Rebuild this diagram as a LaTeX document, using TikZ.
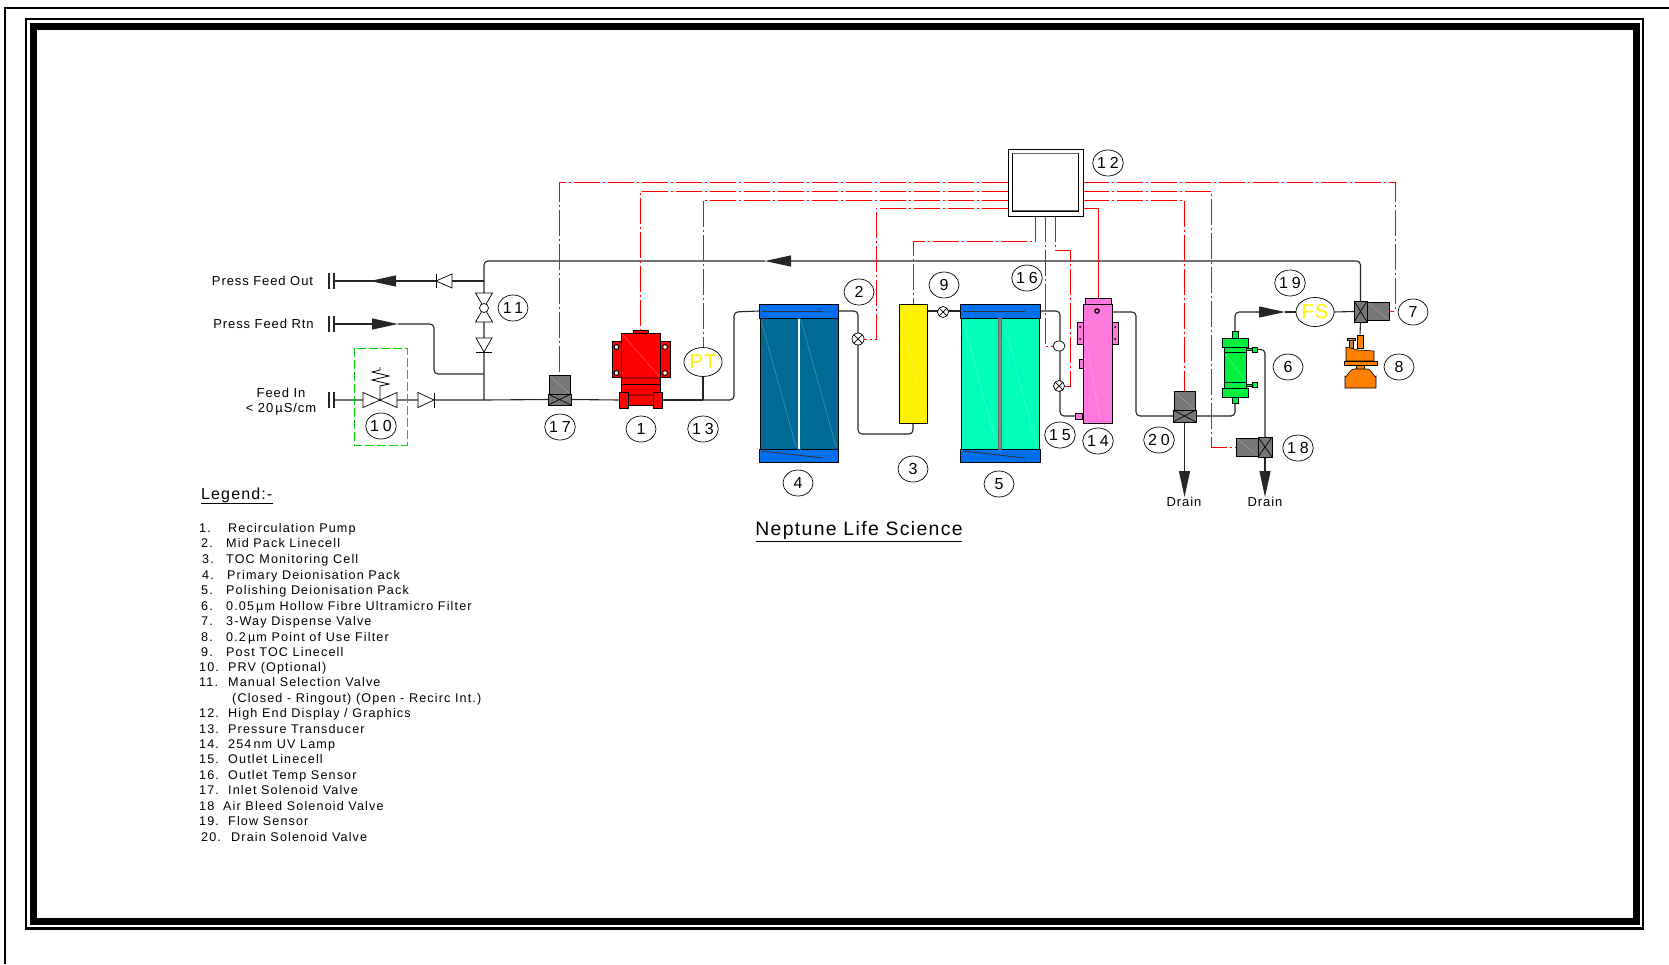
\documentclass[tikz,border=0pt]{standalone}
\usepackage{fontspec}
\setmainfont{Liberation Sans}[LetterSpace=7]
\newfontfamily\tagfont{Liberation Sans}[LetterSpace=24]
\usetikzlibrary{arrows.meta,backgrounds,shapes.geometric}
\definecolor{packblue}{HTML}{006C96}
\definecolor{capblue}{HTML}{0070F0}
\definecolor{packgreen}{HTML}{00FFB9}
\definecolor{lamppink}{HTML}{FF78DC}
\definecolor{filtergreen}{HTML}{00F040}
\definecolor{filterorange}{HTML}{FF8000}
\definecolor{solgrey}{HTML}{777777}
\tikzset{
	pipe/.style={line width=1.1, black!85},
	elbow/.style={pipe, rounded corners=4},
	signal/.style={line width=.9, red, dash pattern=on 26 off 3 on 2 off 3},
	flowtip/.style={-{Triangle[length=26,width=11]}},
	tag/.style={ellipse, draw, line width=.7, minimum width=30, minimum height=26, inner sep=0, font=\tagfont\fontsize{16}{16}\selectfont},
	part/.style={draw, line width=.7, inner sep=0, outer sep=0},
	xcross/.style={path picture={\draw[line width=.7] (path picture bounding box.north west)--(path picture bounding box.south east) (path picture bounding box.north east)--(path picture bounding box.south west);}},
	cellx/.style={part, circle, fill=white, minimum size=12, xcross},
	sol/.style={part, fill=solgrey},
	sym/.style={draw, line width=.7, fill=white},
	gleam/.style={line width=.4, white, opacity=.35},
	labeltext/.style={inner sep=0, text height=9.5, text depth=0, font=\fontsize{13}{15}\selectfont},
	legendline/.style={inner sep=0, anchor=base west, yshift=-4.5, font=\fontsize{12.6}{15}\selectfont\addfontfeature{LetterSpace=9}},
	sensor/.style={part, ellipse, fill=white, minimum width=32, minimum height=29, text=yellow, font=\fontsize{20}{20}\selectfont},
}
\begin{document}
\begin{tikzpicture}[x=1pt,y=-1pt]
	\useasboundingbox (0,0) rectangle (1669,964);

	\draw [line width=2] (5,964)--(5,8)--(1669,8);
	\draw [line width=2.5] (26,19) rectangle (1643,928.5);
	\draw [line width=7] (33.5,26.5) rectangle (1636,921.5);

	\node [part, minimum width=75, minimum height=67, fill=white] (disp) at (1045.5,182.5) {};
	\draw [line width=.7] (1012.5,153) rectangle (1078,211);
	\draw [line width=1.6, black!60] (1012.5,153.5)--(1078,153.5);
	\draw [line width=1.6, black!60] (1012.5,210.5)--(1078,210.5);

	\node [sol, minimum width=21, minimum height=19] (v17top) at (559.5,384.5) {};
	\node [sol, minimum width=23, minimum height=11, xcross] (v17low) at (559.5,399.5) {};
	\draw [gleam] (550,376)--(569,393);

	\node [part, minimum width=39, minimum height=44, fill=red] (pump) at (640.5,355) {};
	\node [part, minimum width=15, minimum height=3, fill=red] (pumptab) at (640.5,331.5) {};
	\filldraw [fill=red, line width=.7] (612,341) rectangle (621,377);
	\filldraw [fill=red, line width=.7] (660,341) rectangle (670,377);
	\filldraw [fill=white, line width=.9] (616.5,347) circle (2.4);
	\filldraw [fill=white, line width=.9] (616.5,373) circle (2.4);
	\filldraw [fill=white, line width=.9] (665,347) circle (2.4);
	\filldraw [fill=white, line width=.9] (665,373) circle (2.4);
	\filldraw [fill=red, line width=.7] (621,377) rectangle (660,384);
	\filldraw [fill=red, line width=.7] (621,384) rectangle (660,405);
	\draw [line width=1.2, red!65!black] (621,378)--(660,378);
	\draw [line width=1.2, red!65!black] (628,395)--(653,395);
	\filldraw [fill=red, line width=.7] (619,392) rectangle (628,408);
	\filldraw [fill=red, line width=.7] (653,392) rectangle (662,408);
	\draw [gleam] (622,334)--(659,376);
	\node [inner sep=0, minimum width=43, minimum height=16] (pumpfoot) at (640.5,400) {};

	\node [sensor] (pt) at (703,362) {PT};

	\node [part, minimum width=79, minimum height=14, fill=capblue] (pack4top) at (798.5,311) {};
	\node [part, minimum width=79, minimum height=13, fill=capblue] (pack4low) at (798.5,455.5) {};
	\node [part, minimum width=78, minimum height=131, fill=packblue] (pack4) at (799,383.5) {};
	\filldraw [fill=white, draw=packblue, line width=.4] (797.5,318) rectangle (800.5,449);
	\draw [gleam] (761,320)--(796,447);
	\draw [gleam] (801,320)--(836,447);
	\draw [line width=.9, black!80] (762,311)--(823,311);
	\draw [line width=.9, black!80] (762,451)--(823,458);

	\node [part, minimum width=28, minimum height=119, fill=yellow] (toc) at (913,363.5) {};
	\draw [gleam] (900,310)--(925,420);

	\node [part, minimum width=80, minimum height=14, fill=capblue] (pack5top) at (1000,311) {};
	\node [part, minimum width=80, minimum height=13, fill=capblue] (pack5low) at (1000,455.5) {};
	\node [part, minimum width=78, minimum height=131, fill=packgreen] (pack5) at (1000,383.5) {};
	\filldraw [fill=black!45, draw=black!60, line width=.4] (998.5,318) rectangle (1001.5,449);
	\draw [gleam] (963,320)--(997,447);
	\draw [gleam] (1003,320)--(1037,447);
	\draw [line width=.9, black!80] (963,311)--(1025,311);
	\draw [line width=.9, black!80] (963,451)--(1025,458);

	\node [cellx] (cell2) at (858,339) {};
	\node [cellx, minimum size=11] (cell9) at (943,312) {};
	\node [cellx, minimum size=11] (cell15) at (1059,386) {};
	\node [part, ellipse, fill=white, minimum width=12, minimum height=10] (temp16) at (1059,346) {};

	\filldraw [fill=lamppink, line width=.7] (1077,322) rectangle (1083,344);
	\filldraw [fill=lamppink, line width=.7] (1112,322) rectangle (1118,344);
	\filldraw [fill=lamppink, line width=.6] (1079,359) rectangle (1083,368);
	\node [part, minimum width=29, minimum height=119, fill=lamppink] (lamp) at (1097.5,363.5) {};
	\node [part, minimum width=26, minimum height=6, fill=lamppink] (lamptop) at (1098,301) {};
	\node [part, minimum width=7, minimum height=6, fill=lamppink] (lampport) at (1078.5,416) {};
	\filldraw [fill=lamppink, line width=1.2] (1097,311) circle (2.2);
	\fill (1080,327) circle (1);
	\fill (1080,339) circle (1);
	\fill (1115,327) circle (1);
	\fill (1115,339) circle (1);
	\draw [gleam] (1086,340)--(1100,420);

	\node [sol, minimum width=21, minimum height=19] (v20top) at (1184.5,400.5) {};
	\node [sol, minimum width=23, minimum height=12, xcross] (v20low) at (1184.5,416) {};
	\draw [gleam] (1175,392)--(1194,409);

	\node [part, minimum width=6, minimum height=7, fill=filtergreen] (f6top) at (1235,334.5) {};
	\node [part, minimum width=6, minimum height=6, fill=filtergreen] (f6low) at (1235,400) {};
	\filldraw [fill=filtergreen, line width=.7] (1222,338) rectangle (1248,347);
	\filldraw [fill=filtergreen, line width=.7] (1224,347) rectangle (1246,352);
	\filldraw [fill=filtergreen, line width=.7] (1224,352) rectangle (1246,382);
	\filldraw [fill=filtergreen, line width=.7] (1224,382) rectangle (1246,388);
	\filldraw [fill=filtergreen, line width=.7] (1222,388) rectangle (1248,397);
	\filldraw [fill=filtergreen, line width=.7] (1246,348) rectangle (1253,350);
	\filldraw [fill=filtergreen, line width=.7] (1246,384) rectangle (1253,386);
	\node [part, minimum width=5, minimum height=5, fill=filtergreen] (f6port) at (1255,349.5) {};
	\node [part, minimum width=5, minimum height=5, fill=filtergreen] (f6drain) at (1255,385) {};
	\draw [gleam] (1225,354)--(1245,380);

	\node [sol, minimum width=14, minimum height=20, xcross] (v18) at (1265,447) {};
	\node [sol, minimum width=22, minimum height=18] (v18sol) at (1247,447) {};
	\draw [gleam] (1237,439)--(1257,455);

	\node [sensor] (fs) at (1315,312) {FS};
	\node [sol, minimum width=13, minimum height=21, xcross] (v7) at (1360.5,311.5) {};
	\node [sol, minimum width=22, minimum height=18] (v7sol) at (1378,311) {};
	\draw [gleam] (1368,303)--(1388,319);

	\filldraw [fill=filterorange, line width=.6] (1357,335) rectangle (1363,348);
	\filldraw [fill=brown, line width=.6] (1349,340) rectangle (1353,348);
	\filldraw [fill=brown, line width=.6] (1347,338) rectangle (1355,340);
	\filldraw [fill=filterorange, line width=.6] (1346,361)--(1346,347)--(1358,350)--(1374,351)--(1374,361)--cycle;
	\filldraw [fill=filterorange, line width=.8] (1344,361) rectangle (1377,365);
	\filldraw [fill=filterorange, line width=.6] (1356,365) rectangle (1364,369);
	\filldraw [fill=filterorange, line width=.6] (1345,388)--(1345,376) to[out=-90,in=180] (1354,369)--(1367,369) to[out=0,in=-90] (1376,376)--(1376,388)--cycle;
	\node [inner sep=0, minimum width=6, minimum height=1] (f8) at (1360,335) {};

	\coordinate (capout) at (334,281);
	\coordinate (capin) at (334,324);
	\coordinate (capfeed) at (334,400);
	\coordinate (tipout) at (370,281);
	\coordinate (tiprtn) at (398,324);
	\coordinate (jfeed) at (484,400);
	\coordinate (jrtn) at (484,374);
	\coordinate (jout) at (484,281);
	\coordinate (toprun) at (484,261);
	\coordinate (tipback) at (765,261);
	\coordinate (jpt) at (703,400);
	\coordinate (bend4) at (734,312);
	\coordinate (bend3) at (858,434);
	\coordinate (bend15) at (1060,416);
	\coordinate (bend20) at (1136,416);
	\coordinate (tipfs) at (1285,312);
	\coordinate (tipdrain20) at (1184.5,497);
	\coordinate (tipdrain18) at (1265,497);

	\begin{scope}[on background layer]
		\draw [pipe, line width=1.4] (329,273)--(329,289);
		\draw [pipe, line width=1.4] (334,273)--(334,289);
		\draw [pipe, line width=1.4] (329,316)--(329,332);
		\draw [pipe, line width=1.4] (334,316)--(334,332);
		\draw [pipe, line width=1.4] (329,392)--(329,408);
		\draw [pipe, line width=1.4] (334,392)--(334,408);

		\draw [pipe] (jout)--(capout);
		\draw [pipe, flowtip] (396,281)--(tipout);
		\draw [pipe, flowtip] (capin)--(tiprtn);
		\draw [elbow] (tiprtn) -| (434,374) -- (jrtn);
		\draw [pipe] (capfeed)--(jfeed)--(v17low.west);
		\draw [pipe] (v17low.east)--(pumpfoot.west);
		\draw [pipe] (pumpfoot.east)--(jpt);
		\draw [pipe] (pt.south)--(jpt);
		\draw [elbow] (jfeed)--(toprun)--(tipback);
		\draw [pipe, flowtip] (790,261)--(tipback);
		\draw [elbow] (790,261) -| (v7.north);
		\draw [elbow] (jpt) -| (bend4) -- (pack4top.west);
		\draw [elbow] (pack4top.east) -| (bend3) -| (toc.south);
		\draw [pipe] (toc.east |- pack5top.west)--(pack5top.west);
		\draw [elbow] (pack5top.east) -| (bend15) -- (lampport.west);
		\draw [elbow] (1112,312) -| (bend20) -- (v20low.west);
		\draw [elbow] (v20low.east) -| (f6low.south);
		\draw [elbow] (f6top.north) |- (1260,312);
		\draw [pipe, flowtip] (1260,312)--(tipfs);
		\draw [pipe] (tipfs)--(fs.west);
		\draw [pipe] (fs.east)--(v7.west);
		\draw [pipe] (v7.south)--(f8);
		\draw [elbow] (f6port.east) -| (v18.north);
		\draw [pipe, flowtip] (v18.south)--(tipdrain18);
		\draw [pipe, flowtip] (v20low.south)--(tipdrain20);

		\draw [signal] (1008,182) -| (v17top.north);
		\draw [signal] (1008,191) -| (pumptab.north);
		\draw [signal] (1008,200) -| (pt.north);
		\draw [signal] (1008,208) -| (876,339) -- (cell2.east);
		\draw [signal] (1083,182) -| (1395,311) -- (v7sol.east);
		\draw [signal] (1083,191) -| (1211,447) -- (v18sol.west);
		\draw [signal] (1083,200) -| (v20top.north);
		\draw [line width=.9, red] (1083,208) -| (lamptop.north);
		\draw [signal] (1035.5,216) |- (913,241) -- (toc.north);
		\draw [signal] (1045,216) |- (temp16.west);
		\draw [signal] (1055,216) |- (1070,250) |- (cell15.east);
	\end{scope}

	\filldraw [sym] (436,281)--(452,274)--(452,288)--cycle;
	\draw [line width=.7] (436,274)--(436,288);
	\filldraw [sym] (475.5,293)--(492.5,293)--(475.5,322)--(492.5,322)--cycle;
	\filldraw [sym] (484,308) circle (4.5);
	\filldraw [sym] (476,338)--(492,338)--(484,352)--cycle;
	\draw [line width=.7] (476,352)--(492,352);
	\filldraw [sym] (363,392.5)--(380,400)--(397,392.5)--(397,407.5)--(380,400)--(363,407.5)--cycle;
	\draw [line width=.8] (380,400)--(380,386)--(389,384)--(372,380)--(389,376)--(372,372)--(380,370)--(380,367);
	\draw [green!85!black, line width=.8, dash pattern=on 9 off 3] (354,348) rectangle (407,445);
	\filldraw [sym] (418,392.5)--(434,400)--(418,407.5)--cycle;
	\draw [line width=.7] (434,392.5)--(434,407.5);

	\node [tag] (tag1) at (641,429) {1};
	\node [tag] (tag2) at (859,292) {2};
	\node [tag] (tag3) at (913,469) {3};
	\node [tag] (tag4) at (798,483) {4};
	\node [tag] (tag5) at (999,484) {5};
	\node [tag] (tag6) at (1288,367) {6};
	\node [tag] (tag7) at (1413,312) {7};
	\node [tag] (tag8) at (1399,367) {8};
	\node [tag] (tag9) at (944,285) {9};
	\node [tag] (tag10) at (381,426) {10};
	\node [tag] (tag11) at (513,308) {11};
	\node [tag] (tag12) at (1108,163) {12};
	\node [tag] (tag13) at (703,429) {13};
	\node [tag] (tag14) at (1098,441) {14};
	\node [tag] (tag15) at (1060,435) {15};
	\node [tag] (tag16) at (1027,278) {16};
	\node [tag] (tag17) at (560,427) {17};
	\node [tag] (tag18) at (1298,448) {18};
	\node [tag] (tag19) at (1290,283) {19};
	\node [tag] (tag20) at (1159,440) {20};

	\node [labeltext] (out) at (262.5,281) {Press Feed Out};
	\node [labeltext] (rtn) at (263.5,324) {Press Feed Rtn};
	\node [labeltext] (feed) at (281,393) {Feed In};
	\node [labeltext] (spec) at (281,408) {< 20\,µS/cm};
	\node [labeltext] (drain20) at (1184,502) {Drain};
	\node [labeltext] (drain18) at (1265,502) {Drain};

	\node [inner sep=0, font=\fontsize{19.4}{22}\selectfont] (title) at (859,530) {Neptune Life Science};
	\draw [line width=.8] (756,541)--(962,541);

	\node [legendline, yshift=4.5, font=\fontsize{16}{18}\selectfont] (legend) at (201,499) {Legend:-};
	\draw [line width=.8] (201,503)--(273,503);

	\node [legendline] (leg1) at (199,528) {\makebox[29pt][l]{1.}Recirculation Pump};
	\node [legendline] (leg2) at (201,543) {\makebox[25pt][l]{2.}Mid Pack Linecell};
	\node [legendline] (leg3) at (202,559) {\makebox[24pt][l]{3.}TOC Monitoring Cell};
	\node [legendline] (leg4) at (202,575) {\makebox[25pt][l]{4.}Primary Deionisation Pack};
	\node [legendline] (leg5) at (201,590) {\makebox[25pt][l]{5.}Polishing Deionisation Pack};
	\node [legendline] (leg6) at (201,606) {\makebox[25pt][l]{6.}0.05\,µm Hollow Fibre Ultramicro Filter};
	\node [legendline] (leg7) at (201,621) {\makebox[25pt][l]{7.}3-Way Dispense Valve};
	\node [legendline] (leg8) at (201,637) {\makebox[25pt][l]{8.}0.2\,µm Point of Use Filter};
	\node [legendline] (leg9) at (201,652) {\makebox[25pt][l]{9.}Post TOC Linecell};
	\node [legendline] (leg10) at (199,667) {\makebox[29pt][l]{10.}PRV (Optional)};
	\node [legendline] (leg11) at (199,682) {\makebox[29pt][l]{11.}Manual Selection Valve};
	\node [legendline] (leg11b) at (232,698) {(Closed - Ringout) (Open - Recirc Int.)};
	\node [legendline] (leg12) at (199,713) {\makebox[29pt][l]{12.}High End Display / Graphics};
	\node [legendline] (leg13) at (199,729) {\makebox[29pt][l]{13.}Pressure Transducer};
	\node [legendline] (leg14) at (199,744) {\makebox[29pt][l]{14.}254\,nm UV Lamp};
	\node [legendline] (leg15) at (199,759) {\makebox[29pt][l]{15.}Outlet Linecell};
	\node [legendline] (leg16) at (199,775) {\makebox[29pt][l]{16.}Outlet Temp Sensor};
	\node [legendline] (leg17) at (199,790) {\makebox[29pt][l]{17.}Inlet Solenoid Valve};
	\node [legendline] (leg18) at (199,806) {\makebox[24pt][l]{18}Air Bleed Solenoid Valve};
	\node [legendline] (leg19) at (199,821) {\makebox[29pt][l]{19.}Flow Sensor};
	\node [legendline] (leg20) at (201,837) {\makebox[30pt][l]{20.}Drain Solenoid Valve};
\end{tikzpicture}
\end{document}
